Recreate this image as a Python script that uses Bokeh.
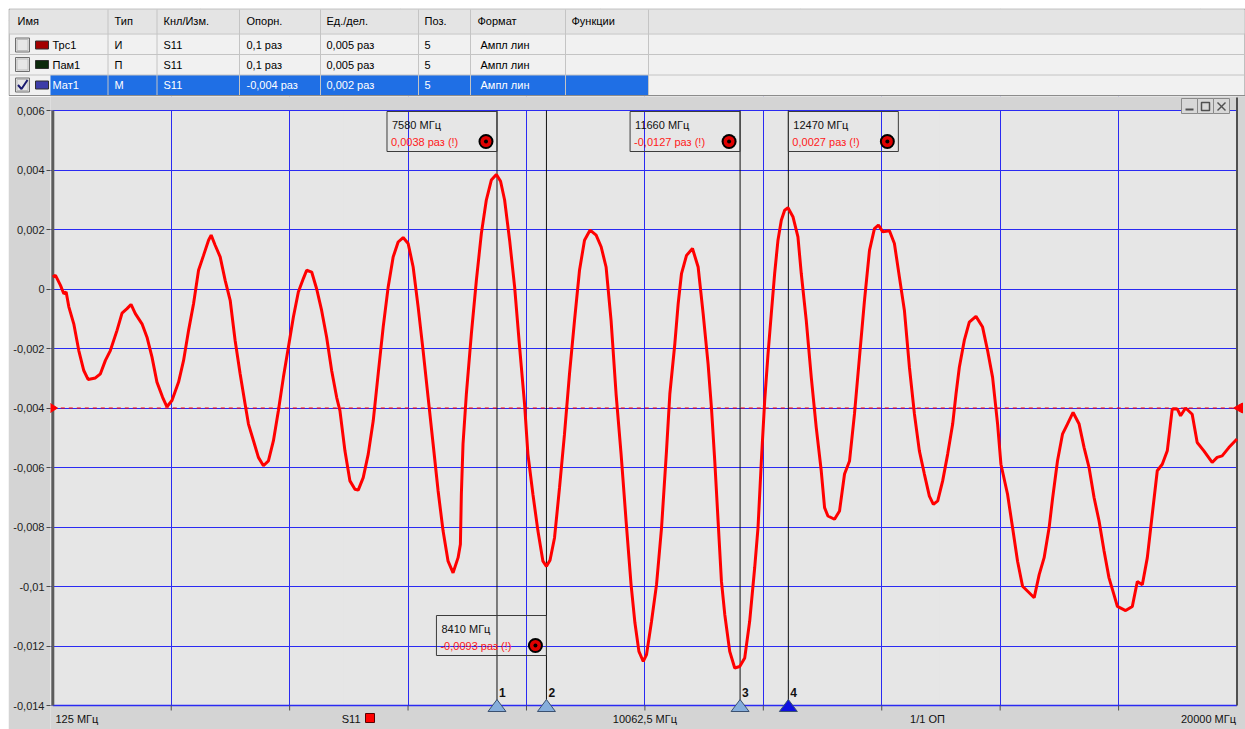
from bokeh.plotting import figure
from bokeh.layouts import column
from bokeh.models import Range1d, FixedTicker, Grid
from bokeh.core.properties import value
from bokeh.embed import file_html
from bokeh.resources import INLINE

FONT_NAME = "Liberation Sans"
FONT = value(FONT_NAME)

# ---------------- data ----------------
freq_mhz = [
    125, 170, 254, 310, 349, 394, 477, 561, 645, 717, 840, 924, 1008, 1091, 1203, 1287, 1371, 1438,
    1510, 1622, 1706, 1790, 1873, 1968, 2041, 2125, 2236, 2320, 2404, 2488, 2571, 2655, 2739, 2783,
    2850, 2934, 3018, 3102, 3185, 3269, 3353, 3409, 3493, 3576, 3660, 3744, 3828, 3911, 3995, 4079,
    4163, 4246, 4330, 4386, 4470, 4554, 4637, 4721, 4805, 4889,
    4944, 5028, 5112, 5196, 5251, 5335, 5419, 5503, 5586, 5670, 5754, 5838, 5921, 6005, 6089, 6173,
    6257, 6340, 6424, 6508, 6592, 6675, 6759, 6843, 6927, 6966, 6982, 7010, 7066, 7150, 7234, 7318,
    7401, 7485, 7570, 7640, 7708, 7792, 7876, 7960, 8043, 8099, 8183, 8267, 8351, 8410, 8470, 8546,
    8630, 8713, 8797, 8881, 8965, 9049, 9143, 9244, 9328, 9411, 9495, 9579, 9663, 9747, 9830,
    9895, 9962, 10035, 10090, 10174, 10258, 10342, 10425, 10481, 10565, 10621, 10677, 10761, 10861,
    10956, 11040, 11123, 11179, 11235, 11291, 11347, 11403, 11486, 11570, 11654, 11738, 11821, 11905,
    11961, 12017, 12073, 12129, 12184, 12240, 12296, 12352, 12408, 12464, 12547, 12631, 12687, 12771,
    12855, 12938, 13022, 13078, 13134, 13245, 13329, 13413, 13497, 13580, 13664, 13748, 13832, 13915,
    13982, 14055, 14167, 14250, 14334, 14418, 14502, 14586, 14669, 14753,
    14837, 14904, 14977, 15060, 15144, 15228, 15284, 15340, 15423, 15507, 15619, 15730, 15814, 15898,
    15982, 16038, 16149, 16233, 16317, 16401, 16512, 16596, 16680, 16763, 16847, 16903, 16987, 17071,
    17154, 17249, 17350, 17434, 17517, 17601, 17685, 17769, 17852, 17936, 17992, 18131, 18243, 18327,
    18411, 18495, 18578, 18662, 18746, 18830, 18913, 18997, 19053, 19137, 19248, 19332, 19444, 19583,
    19667, 19751, 19863, 20000,
]
s11_mat1 = [
    0.00040, 0.00046, 0.00012, -0.00016, -0.00010, -0.00060, -0.00117, -0.00207, -0.00274, -0.00304,
    -0.00299, -0.00285, -0.00240, -0.00207, -0.00139, -0.00081, -0.00066, -0.00052, -0.00083, -0.00117,
    -0.00162, -0.00229, -0.00313, -0.00364, -0.00396, -0.00375, -0.00313, -0.00240, -0.00139, -0.00049,
    0.00063, 0.00113, 0.00164, 0.00181, 0.00147, 0.00108, 0.00029, -0.00038, -0.00173, -0.00285,
    -0.00387, -0.00454, -0.00510, -0.00566, -0.00594, -0.00578, -0.00510, -0.00409, -0.00297, -0.00196,
    -0.00094, -0.00010, 0.00035, 0.00063, 0.00057, 0.00000, -0.00072, -0.00162, -0.00274, -0.00364,
    -0.00409, -0.00544, -0.00645, -0.00673, -0.00676, -0.00634, -0.00555, -0.00443, -0.00285, -0.00128,
    0.00007, 0.00108, 0.00158, 0.00173, 0.00153, 0.00074, -0.00061, -0.00207, -0.00364, -0.00521,
    -0.00679, -0.00813, -0.00915, -0.00954, -0.00903, -0.00858, -0.00690, -0.00521, -0.00353, -0.00151,
    0.00029, 0.00187, 0.00299, 0.00366, 0.00385, 0.00362, 0.00299, 0.00164, 0.00007, -0.00196,
    -0.00387, -0.00555, -0.00690, -0.00813, -0.00915, -0.00932, -0.00912, -0.00836, -0.00667, -0.00488,
    -0.00285, -0.00106, 0.00063, 0.00164, 0.00198, 0.00181, 0.00142, 0.00074, -0.00106, -0.00353,
    -0.00555, -0.00780, -0.00993,
    -0.01122, -0.01218, -0.01252, -0.01229, -0.01117, -0.00993, -0.00802, -0.00544, -0.00353, -0.00184,
    -0.00049, 0.00052, 0.00113, 0.00136, 0.00074, -0.00083, -0.00252, -0.00398, -0.00578, -0.00780,
    -0.00982, -0.01094, -0.01218, -0.01274, -0.01269, -0.01240, -0.01117, -0.00937, -0.00802, -0.00578,
    -0.00375, -0.00218, -0.00083, 0.00052, 0.00164, 0.00231, 0.00265, 0.00273, 0.00243, 0.00175,
    0.00052, -0.00106, -0.00297, -0.00465, -0.00611, -0.00735, -0.00763, -0.00774, -0.00746, -0.00622,
    -0.00578, -0.00420, -0.00229, -0.00038, 0.00130, 0.00203, 0.00215, 0.00192, 0.00196, 0.00153,
    0.00040, -0.00072, -0.00263, -0.00420, -0.00544, -0.00622,
    -0.00696, -0.00724, -0.00712, -0.00645, -0.00555, -0.00454, -0.00353, -0.00263, -0.00173, -0.00111,
    -0.00092, -0.00128, -0.00207, -0.00297, -0.00454, -0.00589, -0.00690, -0.00802, -0.00915, -0.00999,
    -0.01021, -0.01038, -0.00960, -0.00903, -0.00802, -0.00707, -0.00578, -0.00488, -0.00454, -0.00415,
    -0.00454, -0.00533, -0.00600, -0.00701, -0.00780, -0.00881, -0.00971, -0.01028, -0.01067, -0.01081,
    -0.01067, -0.00983, -0.00994, -0.00903, -0.00757, -0.00611, -0.00589, -0.00544, -0.00403, -0.00403,
    -0.00426, -0.00400, -0.00421, -0.00516, -0.00544, -0.00583, -0.00566, -0.00561, -0.00533, -0.00504,
]

f_start, f_center, f_stop = 125.0, 10062.5, 20000.0
n_div = 10
y_ticks = [0.006, 0.004, 0.002, 0.0, -0.002, -0.004, -0.006, -0.008, -0.01, -0.012, -0.014]
y_tick_labels = ["0,006", "0,004", "0,002", "0", "-0,002", "-0,004", "-0,006",
                 "-0,008", "-0,01", "-0,012", "-0,014"]
ref_level = -0.004

marker_ids = ["1", "2", "3", "4"]
marker_freq = [7580.0, 8410.0, 11660.0, 12470.0]
marker_val = [0.0038, -0.0093, -0.0127, 0.0027]
marker_freq_text = ["7580 МГц", "8410 МГц", "11660 МГц", "12470 МГц"]
marker_val_text = ["0,0038 раз (!)", "-0,0093 раз (!)", "-0,0127 раз (!)", "0,0027 раз (!)"]
active_marker = "4"

label_start = "125 МГц"
label_center = "10062,5 МГц"
label_stop = "20000 МГц"
label_trace = "S11"
label_avg = "1/1 ОП"

col_headers = ["Имя", "Тип", "Кнл/Изм.", "Опорн.", "Ед./дел.", "Поз.", "Формат", "Функции"]
trace_names = ["Трс1", "Пам1", "Мат1"]
trace_types = ["И", "П", "М"]
trace_meas = ["S11", "S11", "S11"]
trace_ref = ["0,1 раз", "0,1 раз", "-0,004 раз"]
trace_scale = ["0,005 раз", "0,005 раз", "0,002 раз"]
trace_pos = ["5", "5", "5"]
trace_fmt = ["Ампл лин", "Ампл лин", "Ампл лин"]
trace_checked = [False, False, True]
trace_colors = ["#a30000", "#0c2a0c", "#3d3da8"]
selected_row = 2

# ---------------- geometry helpers (page pixels -> data) ----------------
FL, FR = 52.3, 1236.5     # page x of start / stop frequency
GT, GB = 110.0, 705.0     # page y of top / bottom grid line
XPX = (f_stop - f_start) / (FR - FL)
YPX = (y_ticks[0] - y_ticks[-1]) / (GB - GT)


def X(px):
    return f_start + (px - FL) * XPX


def Y(py):
    return y_ticks[0] - (py - GT) * YPX


GRID_BLUE = "#2a2af2"
BG = "#d4d4d4"
PLOT_BG = "#e6e6e6"

# ---------------- chart (page x 8..1245, y 96..729) ----------------
p = figure(width=1237, height=633,
           x_range=Range1d(X(50), X(1245)), y_range=Range1d(Y(729), Y(96)),
           x_axis_location=None, y_axis_location="left",
           toolbar_location=None, output_backend="svg", title_location=None,
           min_border_left=42, min_border_right=0, min_border_top=0, min_border_bottom=0,
           background_fill_color=PLOT_BG, border_fill_color=BG, outline_line_color=None)
p.frame_align = False

ax = p.yaxis[0]
ax.ticker = FixedTicker(ticks=y_ticks)
ax.major_label_overrides = {t: s for t, s in zip(y_ticks, y_tick_labels)}
ax.axis_line_color = None
ax.major_tick_line_color = "#4a4a4a"
ax.major_tick_out = 4
ax.major_tick_in = 0
ax.minor_tick_line_color = None
ax.major_label_standoff = 2
ax.major_label_text_font = FONT_NAME
ax.major_label_text_font_size = "11px"
ax.major_label_text_color = "#222222"

p.ygrid.grid_line_color = GRID_BLUE
p.ygrid.grid_line_width = 1

div_w = (f_stop - f_start) / n_div
x_grid = [f_start + k * div_w for k in range(1, n_div)]
p.add_layout(Grid(dimension=0, ticker=FixedTicker(ticks=x_grid),
                  grid_line_color=GRID_BLUE, grid_line_width=1), "center")

# outer gray strips (top, bottom, right)
p.quad(left=[X(40), X(40), f_stop], right=[X(1250), X(1250), X(1250)],
       top=[Y(90), y_ticks[-1], Y(90)], bottom=[y_ticks[0], Y(735), Y(735)],
       fill_color=BG, line_color=None)
# frame edges
p.line([f_start, f_stop], [y_ticks[0]] * 2, line_color=GRID_BLUE, line_width=1.2)
p.line([f_start, f_stop], [y_ticks[-1]] * 2, line_color=GRID_BLUE, line_width=1.5)
p.segment(x0=[f_stop], y0=[Y(97)], x1=[f_stop], y1=[y_ticks[-1]], line_color="#505050", line_width=2)
p.segment(x0=[f_start], y0=[y_ticks[0]], x1=[f_start], y1=[y_ticks[-1]], line_color="#5c5c5c", line_width=3)
# bottom division ticks
p.segment(x0=x_grid, y0=[y_ticks[-1]] * len(x_grid), x1=x_grid, y1=[Y(710)] * len(x_grid),
          line_color="#505050", line_width=1)

# marker vertical lines
p.segment(x0=marker_freq, y0=[y_ticks[0]] * 4, x1=marker_freq, y1=[y_ticks[-1]] * 4,
          line_color="#111111", line_width=1)

# reference level
p.line([f_start, f_stop], [ref_level] * 2, line_color="#ff0000", line_dash="4 4", line_width=1)

# trace
p.line(freq_mhz, s11_mat1, line_color="#ff0000", line_width=3)

# reference triangles
ry = (GT + (y_ticks[0] - ref_level) / YPX)
p.patches(xs=[[X(49), X(49), X(57)], [X(1242), X(1242), X(1233)]],
          ys=[[Y(ry - 5), Y(ry + 5), Y(ry)], [Y(ry - 5), Y(ry + 5), Y(ry)]],
          fill_color="#ff0000", line_color="#ff0000")

# marker triangles and numbers at bottom
tri_xs, tri_ys, tri_fill = [], [], []
for mid, f in zip(marker_ids, marker_freq):
    tri_xs.append([f - 9 * XPX, f + 9 * XPX, f])
    tri_ys.append([Y(711), Y(711), Y(699)])
    tri_fill.append("#1010e0" if mid == active_marker else "#86aedc")
p.patches(xs=tri_xs, ys=tri_ys, fill_color=tri_fill, line_color="#3a5070", line_width=1)
p.text(x=[f + 2 * XPX for f in marker_freq], y=[Y(692)] * 4, text=marker_ids,
       text_font=FONT, text_font_size="12px", text_font_style="bold", text_color="#111111",
       text_align="left", text_baseline="middle")

# marker readout boxes
box_l, box_r, box_t = [], [], []
for i, f in enumerate(marker_freq):
    on_right = (i == 3)
    top_px = 615 if i == 1 else 111
    l = f if on_right else f - 110 * XPX
    r = f + 110 * XPX if on_right else f
    box_l.append(l); box_r.append(r); box_t.append(top_px)
p.quad(left=box_l, right=box_r, top=[Y(t) for t in box_t], bottom=[Y(t + 40) for t in box_t],
       fill_color=None, line_color="#3c3c3c", line_width=1)
p.text(x=[l + 5 * XPX for l in box_l], y=[Y(t + 13) for t in box_t], text=marker_freq_text,
       text_font=FONT, text_font_size="11px", text_color="#111111",
       text_align="left", text_baseline="middle")
p.text(x=[l + 4 * XPX for l in box_l], y=[Y(t + 30) for t in box_t], text=marker_val_text,
       text_font=FONT, text_font_size="11px", text_color="#ff1a1a",
       text_align="left", text_baseline="middle")
cx = [r - 11 * XPX for r in box_r]
cy = [Y(t + 30) for t in box_t]
p.scatter(cx, cy, size=15, fill_color="#000000", line_color=None)
p.scatter(cx, cy, size=11, fill_color="#e00000", line_color=None)
p.scatter(cx, cy, size=4, fill_color="#000000", line_color=None)

# bottom status labels
lab_y = Y(718)
p.text(x=[X(55)], y=[lab_y], text=[label_start], text_font=FONT, text_font_size="11px",
       text_color="#111111", text_align="left", text_baseline="middle")
p.text(x=[f_center], y=[lab_y], text=[label_center], text_font=FONT, text_font_size="11px",
       text_color="#111111", text_align="center", text_baseline="middle")
p.text(x=[f_stop - 1 * XPX], y=[lab_y], text=[label_stop], text_font=FONT, text_font_size="11px",
       text_color="#111111", text_align="right", text_baseline="middle")
p.text(x=[X(927)], y=[lab_y], text=[label_avg], text_font=FONT, text_font_size="11px",
       text_color="#111111", text_align="center", text_baseline="middle")
p.text(x=[X(360)], y=[lab_y], text=[label_trace], text_font=FONT, text_font_size="11px",
       text_color="#111111", text_align="right", text_baseline="middle")
p.rect(x=[X(369.5)], y=[Y(717.5)], width=9 * XPX, height=9 * YPX,
       fill_color="#ff0000", line_color="#5a0000")

# window buttons
bx = [1181, 1197, 1213]
p.quad(left=[X(b) for b in bx], right=[X(b + 16) for b in bx], top=[Y(98)] * 3, bottom=[Y(113)] * 3,
       fill_color="#d8d8d8", line_color="#8a8a8a")
p.segment(x0=[X(1185)], y0=[Y(109)], x1=[X(1193)], y1=[Y(109)], line_color="#505050", line_width=2)
p.quad(left=[X(1201)], right=[X(1209)], top=[Y(102)], bottom=[Y(110)],
       fill_color=None, line_color="#505050", line_width=1.5)
p.segment(x0=[X(1217), X(1217)], y0=[Y(102), Y(110)], x1=[X(1225), X(1225)], y1=[Y(110), Y(102)],
          line_color="#505050", line_width=1.5)

# ---------------- trace table (page x 8..1245, y 8..96) ----------------
t = figure(width=1237, height=88, x_range=Range1d(8, 1245), y_range=Range1d(96, 8),
           x_axis_location=None, y_axis_location=None, toolbar_location=None,
           output_backend="svg", title_location=None, min_border=0,
           background_fill_color="#ffffff", border_fill_color="#ffffff", outline_line_color=None)
t.frame_align = False

t.quad(left=[8.5], right=[1244.5], top=[8.5], bottom=[95], fill_color="#f1f1f1", line_color="#8c8c8c")
t.quad(left=[9], right=[1244], top=[9], bottom=[33], fill_color="#e4e4e4", line_color=None)
row_top = [34, 54, 74.5]
row_bot = [54, 74.5, 94.5]
row_y = [44.5, 64, 84.5]
t.quad(left=[50], right=[648], top=[row_top[selected_row]], bottom=[row_bot[selected_row]],
       fill_color="#1f6fe5", line_color=None)
t.segment(x0=[9] * 3, y0=[33.5, 54, 74.5], x1=[1244] * 3, y1=[33.5, 54, 74.5], line_color="#c4c4c4")
col_edges = [107.5, 156.5, 239, 320, 418, 470, 565, 648]
t.segment(x0=col_edges, y0=[9] * len(col_edges), x1=col_edges, y1=[94.5] * len(col_edges),
          line_color="#c4c4c4")

hdr_x = [17, 114, 163, 246, 326, 424, 477, 571]
t.text(x=hdr_x, y=[20.5] * len(hdr_x), text=col_headers, text_font=FONT, text_font_size="11px",
       text_color="#000000", text_align="left", text_baseline="middle")

# checkboxes and colour swatches
t.quad(left=[15] * 3, right=[29] * 3, top=[y - 7 for y in row_y], bottom=[y + 7 for y in row_y],
       fill_color="#e6e6e6", line_color="#6e6e6e")
t.quad(left=[16.5] * 3, right=[27.5] * 3, top=[y - 5.5 for y in row_y], bottom=[y + 5.5 for y in row_y],
       fill_color=None, line_color="#bdbdbd")
for i, chk in enumerate(trace_checked):
    if chk:
        y0 = row_y[i]
        t.line([17.5, 21, 27], [y0, y0 + 4, y0 - 5], line_color="#1a1a70", line_width=2)
t.quad(left=[35] * 3, right=[48] * 3, top=[y - 4 for y in row_y], bottom=[y + 4 for y in row_y],
       fill_color=trace_colors, line_color="#303030")

cols = [trace_names, trace_types, trace_meas, trace_ref, trace_scale, trace_pos, trace_fmt]
cols_x = [52, 114, 163, 246, 326, 424, 480]
for cx_, vals in zip(cols_x, cols):
    colors = ["#ffffff" if i == selected_row else "#000000" for i in range(len(vals))]
    t.text(x=[cx_] * len(vals), y=row_y, text=vals, text_color=colors,
           text_font=FONT, text_font_size="11px", text_align="left", text_baseline="middle")

layout = column(t, p, spacing=0, margin=(8, 0, 0, 8))
open("out.html", "w").write(file_html(layout, INLINE))
